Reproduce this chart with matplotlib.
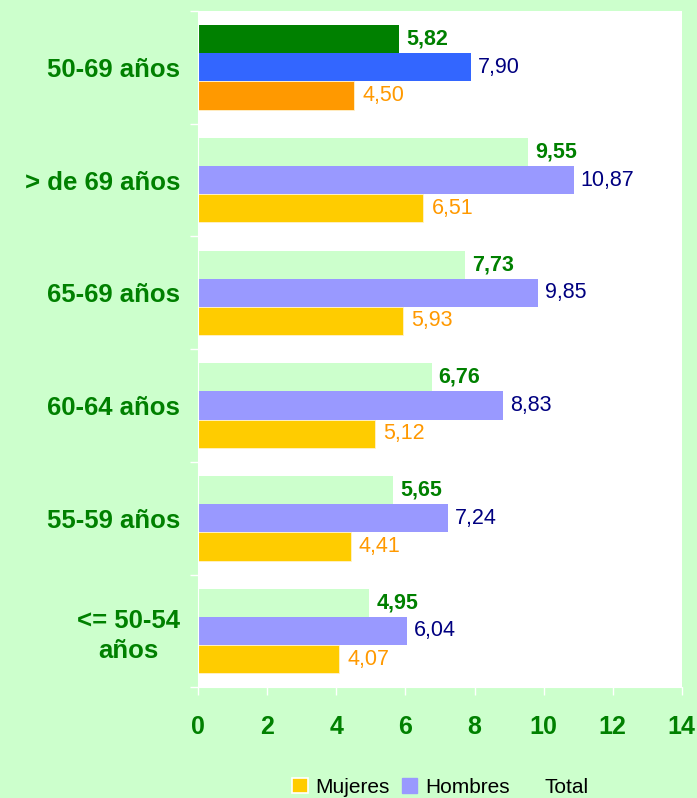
import matplotlib
matplotlib.use('Agg')
import matplotlib.pyplot as plt
from matplotlib.patches import Patch
import numpy as np

plt.rcParams['font.family'] = ['Liberation Sans', 'DejaVu Sans']

# data
categories = ["50-69 años", "> de 69 años", "65-69 años", "60-64 años", "55-59 años", "<= 50-54\naños"]
total = [5.82, 9.55, 7.73, 6.76, 5.65, 4.95]
hombres = [7.90, 10.87, 9.85, 8.83, 7.24, 6.04]
mujeres = [4.50, 6.51, 5.93, 5.12, 4.41, 4.07]
series_names = ["Mujeres", "Hombres", "Total"]
xticks = [0, 2, 4, 6, 8, 10, 12, 14]

bg = "#CCFFCC"
green = "#008000"
# normal colours, and the highlighted first group
col_total, col_hom, col_muj = "#CCFFCC", "#9999FF", "#FFCC00"
hi_total, hi_hom, hi_muj = "#008000", "#3366FF", "#FF9900"
lab_total, lab_hom, lab_muj = "#008000", "#000080", "#FF9900"

def fmt(v):
    return f"{v:.2f}".replace(".", ",")

fig = plt.figure(figsize=(6.97, 7.98), dpi=100, facecolor=bg)
ax = fig.add_axes([0.2845, 0.1387, 0.6936, 0.8475])
ax.set_facecolor("white")

y = np.arange(len(categories))
h = 0.25
c_t = [hi_total] + [col_total] * (len(y) - 1)
c_h = [hi_hom] + [col_hom] * (len(y) - 1)
c_m = [hi_muj] + [col_muj] * (len(y) - 1)

b_t = ax.barh(y - h, total, height=h, color=c_t, linewidth=0)
b_h = ax.barh(y, hombres, height=h, color=c_h, linewidth=0)
b_m = ax.barh(y + h, mujeres, height=h, color=c_m, edgecolor="#FFF2CC", linewidth=0.6)

ax.bar_label(b_t, labels=[fmt(v) for v in total], padding=5, color=lab_total,
             fontsize=15.5, fontweight="bold")
ax.bar_label(b_h, labels=[fmt(v) for v in hombres], padding=5, color=lab_hom, fontsize=15.5)
ax.bar_label(b_m, labels=[fmt(v) for v in mujeres], padding=6, color=lab_muj, fontsize=15.5)

ax.set_xlim(0, 14)
ax.set_ylim(len(y) - 0.5, -0.5)
ax.set_xticks(xticks)
ax.set_xticklabels([str(t) for t in xticks], fontsize=18, fontweight="bold", color=green)
ax.set_yticks(y)
ax.set_yticklabels(categories, fontsize=18.5, fontweight="bold", color=green,
                   multialignment="center", linespacing=1.3)
ax.set_yticks(np.arange(len(y) + 1) - 0.5, minor=True)
ax.tick_params(axis="y", which="major", length=0, pad=13)
ax.tick_params(axis="y", which="minor", length=6, color="white", width=1)
ax.tick_params(axis="x", length=6, color="white", width=1, pad=14)

for s in ["top", "right"]:
    ax.spines[s].set_visible(False)
for s in ["left", "bottom"]:
    ax.spines[s].set_color("white")

handles = [Patch(facecolor=col_muj, edgecolor="white", linewidth=1.2),
           Patch(facecolor=col_hom, edgecolor=col_hom),
           Patch(facecolor=col_total, edgecolor=col_total)]
fig.legend(handles, series_names, ncol=3, loc="center", bbox_to_anchor=(0.632, 0.013),
           frameon=False, fontsize=15, handlelength=0.75, handleheight=0.75,
           handletextpad=0.35, columnspacing=0.6)

fig.savefig("out.png", dpi=100, facecolor=bg)
